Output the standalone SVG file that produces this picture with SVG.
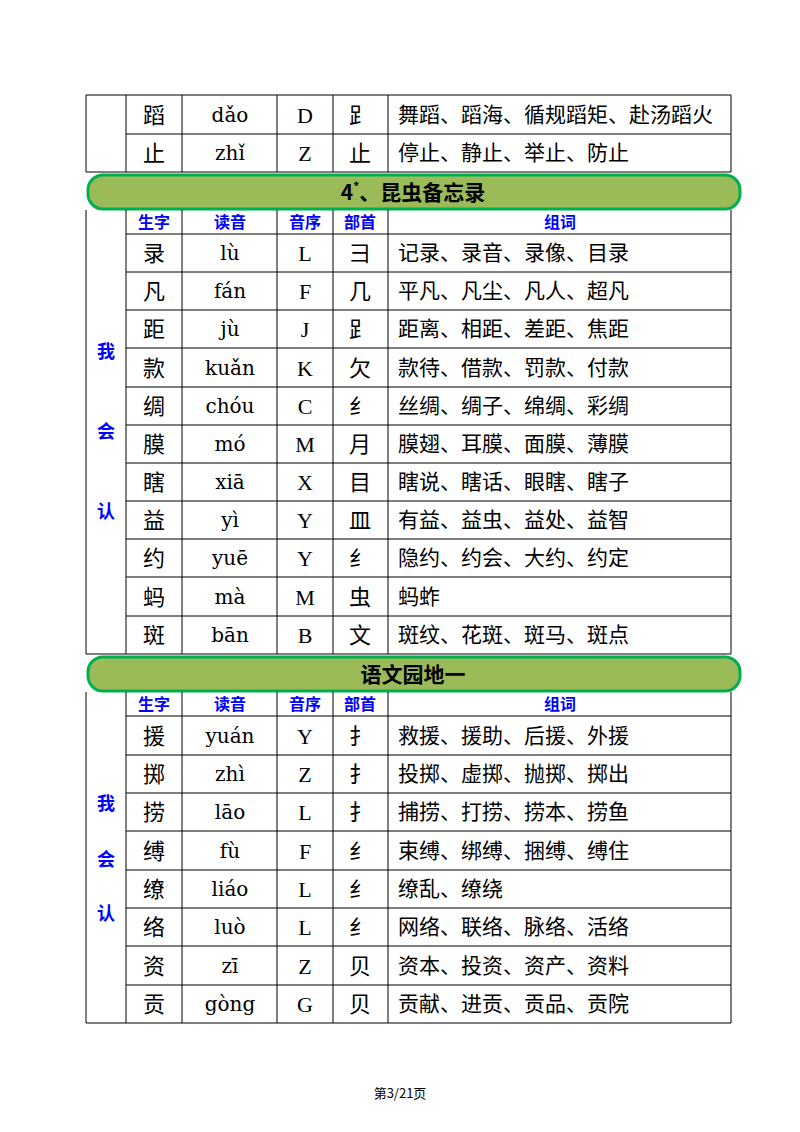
<svg xmlns="http://www.w3.org/2000/svg" width="800" height="1132" viewBox="0 0 800 1132">
<style>
.l{stroke:#000;stroke-width:1;fill:none}
.c{font-family:"Noto Sans CJK SC",sans-serif;font-size:22px;text-anchor:middle}
.p{font-family:"DejaVu Serif","Liberation Serif",serif;font-size:20px;text-anchor:middle}
.o{font-family:"Liberation Serif",serif;font-size:22px;text-anchor:middle}
.w{font-family:"Noto Sans CJK SC",sans-serif;font-size:21px}
.h{font-family:"Noto Sans CJK SC",sans-serif;font-size:16px;font-weight:bold;fill:#0000ff;text-anchor:middle}
.s{font-family:"Noto Sans CJK SC",sans-serif;font-size:18px;font-weight:bold;fill:#0000ff;text-anchor:middle}
.b{fill:#9bbb59;stroke:#00b050;stroke-width:3}
.bt{font-family:"Noto Sans CJK SC",sans-serif;font-size:21px;font-weight:bold;text-anchor:middle}
</style>
<rect width="800" height="1132" fill="#fff"/>
<g id="sec0">
<g class="l">
<path d="M86 95H731V172M86 95V172M126 95V172M182 95V172M277 95V172M333 95V172M388 95V172M126 134H731M86 172H731"/>
</g>
<text class="c" x="154" y="123">蹈</text><text class="p" x="230" y="122">dǎo</text><text class="o" x="305" y="123">D</text><text class="c" x="360" y="123">𧾷</text><text class="w" x="398" y="122">舞蹈、蹈海、循规蹈矩、赴汤蹈火</text>
<text class="c" x="154" y="161">止</text><text class="p" x="230" y="160">zhǐ</text><text class="o" x="305" y="161">Z</text><text class="c" x="360" y="161">止</text><text class="w" x="398" y="160">停止、静止、举止、防止</text>
</g>
<g id="banner1"><rect class="b" x="88" y="175" width="652" height="34" rx="15"/><text class="bt" x="413" y="200">4<tspan font-size="12" dy="-9">*</tspan><tspan dy="9">、昆虫备忘录</tspan></text></g>
<g id="sec1">
<g class="l"><path d="M86 210V654M731 210V654M126 210V654M182 210V654M277 210V654M333 210V654M388 210V654M126 234H731M126 272H731M126 310H731M126 348H731M126 387H731M126 425H731M126 463H731M126 501H731M126 539H731M126 577H731M126 616H731M86 654H731"/></g>
<text class="h" x="154" y="228">生字</text><text class="h" x="230" y="228">读音</text><text class="h" x="305" y="228">音序</text><text class="h" x="360" y="228">部首</text><text class="h" x="560" y="228">组词</text>
<text class="s" x="106" y="358">我</text><text class="s" x="106" y="438">会</text><text class="s" x="106" y="518">认</text>
<g id="r1">
<text class="c" x="154" y="261">录</text><text class="p" x="230" y="260">lù</text><text class="o" x="305" y="261">L</text><text class="c" x="360" y="261">彐</text><text class="w" x="398" y="260">记录、录音、录像、目录</text>
<text class="c" x="154" y="299">凡</text><text class="p" x="230" y="298">fán</text><text class="o" x="305" y="299">F</text><text class="c" x="360" y="299">几</text><text class="w" x="398" y="298">平凡、凡尘、凡人、超凡</text>
<text class="c" x="154" y="337">距</text><text class="p" x="230" y="336">jù</text><text class="o" x="305" y="337">J</text><text class="c" x="360" y="337">𧾷</text><text class="w" x="398" y="336">距离、相距、差距、焦距</text>
<text class="c" x="154" y="376">款</text><text class="p" x="230" y="375">kuǎn</text><text class="o" x="305" y="376">K</text><text class="c" x="360" y="376">欠</text><text class="w" x="398" y="375">款待、借款、罚款、付款</text>
<text class="c" x="154" y="414">绸</text><text class="p" x="230" y="413">chóu</text><text class="o" x="305" y="414">C</text><text class="c" x="360" y="414">纟</text><text class="w" x="398" y="413">丝绸、绸子、绵绸、彩绸</text>
<text class="c" x="154" y="452">膜</text><text class="p" x="230" y="451">mó</text><text class="o" x="305" y="452">M</text><text class="c" x="360" y="452">月</text><text class="w" x="398" y="451">膜翅、耳膜、面膜、薄膜</text>
<text class="c" x="154" y="490">瞎</text><text class="p" x="230" y="489">xiā</text><text class="o" x="305" y="490">X</text><text class="c" x="360" y="490">目</text><text class="w" x="398" y="489">瞎说、瞎话、眼瞎、瞎子</text>
<text class="c" x="154" y="528">益</text><text class="p" x="230" y="527">yì</text><text class="o" x="305" y="528">Y</text><text class="c" x="360" y="528">皿</text><text class="w" x="398" y="527">有益、益虫、益处、益智</text>
<text class="c" x="154" y="566">约</text><text class="p" x="230" y="565">yuē</text><text class="o" x="305" y="566">Y</text><text class="c" x="360" y="566">纟</text><text class="w" x="398" y="565">隐约、约会、大约、约定</text>
<text class="c" x="154" y="605">蚂</text><text class="p" x="230" y="604">mà</text><text class="o" x="305" y="605">M</text><text class="c" x="360" y="605">虫</text><text class="w" x="398" y="604">蚂蚱</text>
<text class="c" x="154" y="643">斑</text><text class="p" x="230" y="642">bān</text><text class="o" x="305" y="643">B</text><text class="c" x="360" y="643">文</text><text class="w" x="398" y="642">斑纹、花斑、斑马、斑点</text>
</g>
</g>
<g id="banner2"><rect class="b" x="88" y="657" width="652" height="34" rx="15"/><text class="bt" x="413" y="682">语文园地一</text></g>
<g id="sec2">
<g class="l"><path d="M86 692V1023M731 692V1023M126 692V1023M182 692V1023M277 692V1023M333 692V1023M388 692V1023M126 716H731M126 755H731M126 793H731M126 831H731M126 870H731M126 908H731M126 946H731M126 985H731M86 1023H731"/></g>
<text class="h" x="154" y="710">生字</text><text class="h" x="230" y="710">读音</text><text class="h" x="305" y="710">音序</text><text class="h" x="360" y="710">部首</text><text class="h" x="560" y="710">组词</text>
<text class="s" x="106" y="810">我</text><text class="s" x="106" y="866">会</text><text class="s" x="106" y="920">认</text>
<text class="c" x="154" y="744">援</text><text class="p" x="230" y="743">yuán</text><text class="o" x="305" y="744">Y</text><text class="c" x="360" y="744">扌</text><text class="w" x="398" y="743">救援、援助、后援、外援</text>
<text class="c" x="154" y="782">掷</text><text class="p" x="230" y="781">zhì</text><text class="o" x="305" y="782">Z</text><text class="c" x="360" y="782">扌</text><text class="w" x="398" y="781">投掷、虚掷、抛掷、掷出</text>
<text class="c" x="154" y="820">捞</text><text class="p" x="230" y="819">lāo</text><text class="o" x="305" y="820">L</text><text class="c" x="360" y="820">扌</text><text class="w" x="398" y="819">捕捞、打捞、捞本、捞鱼</text>
<text class="c" x="154" y="859">缚</text><text class="p" x="230" y="858">fù</text><text class="o" x="305" y="859">F</text><text class="c" x="360" y="859">纟</text><text class="w" x="398" y="858">束缚、绑缚、捆缚、缚住</text>
<text class="c" x="154" y="897">缭</text><text class="p" x="230" y="896">liáo</text><text class="o" x="305" y="897">L</text><text class="c" x="360" y="897">纟</text><text class="w" x="398" y="896">缭乱、缭绕</text>
<text class="c" x="154" y="935">络</text><text class="p" x="230" y="934">luò</text><text class="o" x="305" y="935">L</text><text class="c" x="360" y="935">纟</text><text class="w" x="398" y="934">网络、联络、脉络、活络</text>
<text class="c" x="154" y="974">资</text><text class="p" x="230" y="973">zī</text><text class="o" x="305" y="974">Z</text><text class="c" x="360" y="974">贝</text><text class="w" x="398" y="973">资本、投资、资产、资料</text>
<text class="c" x="154" y="1012">贡</text><text class="p" x="230" y="1011">gòng</text><text class="o" x="305" y="1012">G</text><text class="c" x="360" y="1012">贝</text><text class="w" x="398" y="1011">贡献、进贡、贡品、贡院</text>
</g>
<text x="400" y="1098" font-family="Noto Sans CJK SC,sans-serif" font-size="13" text-anchor="middle">第3/21页</text>
</svg>
